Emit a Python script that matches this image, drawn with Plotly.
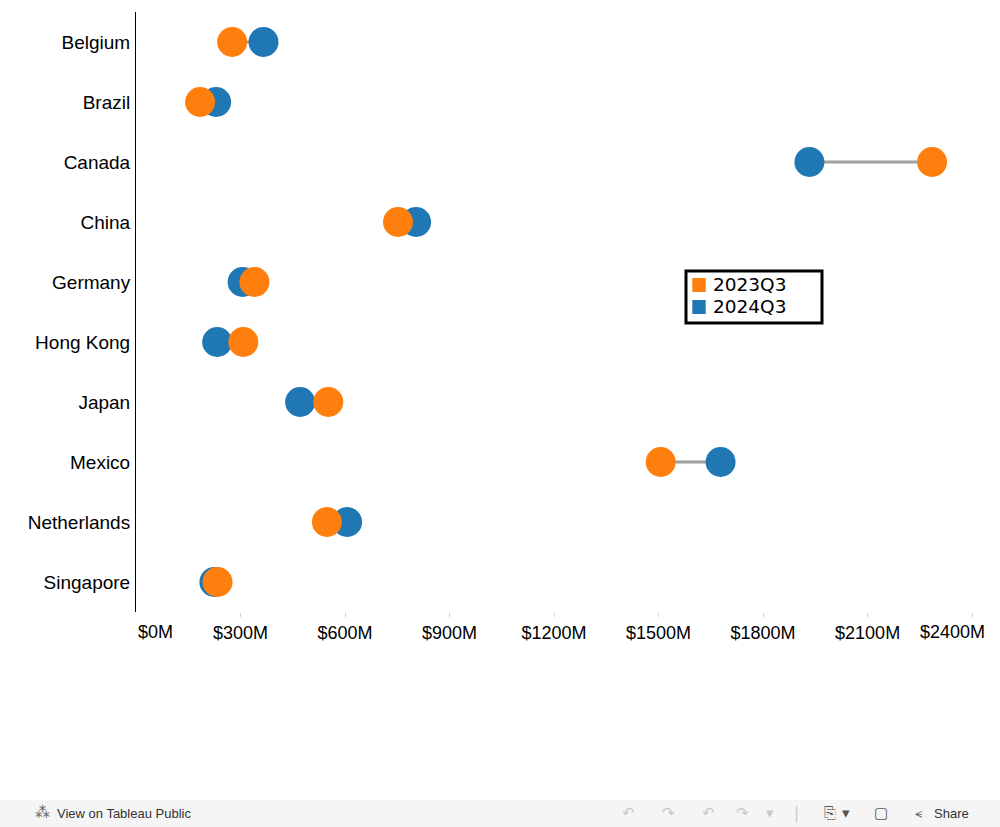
import plotly.graph_objects as go

countries = ["Belgium", "Brazil", "Canada", "China", "Germany", "Hong Kong",
             "Japan", "Mexico", "Netherlands", "Singapore"]
q2023 = [276, 184, 2285, 752, 340, 308, 552, 1506, 548, 234]   # $M
q2024 = [366, 230, 1933, 804, 306, 233, 471, 1678, 606, 225]   # $M
tick_vals = [300, 600, 900, 1200, 1500, 1800, 2100]
tick_text = ["$300M", "$600M", "$900M", "$1200M", "$1500M", "$1800M", "$2100M"]
series_names = ["2023Q3", "2024Q3"]

ORANGE = "#ff7f0e"
BLUE = "#1f77b4"
FONT = "Liberation Sans, Arial, sans-serif"

# plot area in pixels (for decorations in paper coordinates)
L, R, T, B = 136, 1000, 12, 612
def px(x):
    return (x - L) / (R - L)
def py(y):
    return (B - y) / (B - T)

fig = go.Figure()

# connector lines
lx, ly = [], []
for c, a, b in zip(countries, q2023, q2024):
    lx += [a, b, None]
    ly += [c, c, None]
fig.add_trace(go.Scatter(x=lx, y=ly, mode="lines", line=dict(color="#a0a0a0", width=3),
                         showlegend=False, hoverinfo="skip"))

fig.add_trace(go.Scatter(x=q2024, y=countries, mode="markers", name=series_names[1],
                         marker=dict(color=BLUE, size=30, line=dict(width=0)), showlegend=False))
fig.add_trace(go.Scatter(x=q2023, y=countries, mode="markers", name=series_names[0],
                         marker=dict(color=ORANGE, size=30, line=dict(width=0)), showlegend=False))

annotations = [
    dict(x=0, y=0, xref="x", yref="paper", text="$0M", showarrow=False,
         xanchor="left", yanchor="top", yshift=-8, xshift=0,
         font=dict(size=18, family=FONT, color="black")),
    dict(x=2400, y=0, xref="x", yref="paper", text="$2400M", showarrow=False,
         xanchor="center", yanchor="top", yshift=-8, xshift=-20,
         font=dict(size=18, family=FONT, color="black")),
]

# manual legend
shapes = [
    dict(type="rect", xref="paper", yref="paper", x0=px(686), x1=px(822), y0=py(323), y1=py(271),
         line=dict(color="black", width=3), fillcolor="white"),
    dict(type="rect", xref="paper", yref="paper", x0=px(692.3), x1=px(705.7), y0=py(292), y1=py(278),
         line=dict(width=0), fillcolor=ORANGE),
    dict(type="rect", xref="paper", yref="paper", x0=px(692.3), x1=px(705.7), y0=py(314), y1=py(300),
         line=dict(width=0), fillcolor=BLUE),
    # footer bar
    dict(type="rect", xref="paper", yref="paper", x0=px(-5), x1=px(1005), y0=py(800), y1=py(830),
         fillcolor="#f5f5f5", line=dict(width=0), layer="below"),
]
for name, yc in zip(series_names, [284.5, 306.5]):
    annotations.append(dict(x=px(711), y=py(yc), xref="paper", yref="paper", text=name,
                            showarrow=False, xanchor="left", yanchor="middle",
                            font=dict(size=18.5, family="DejaVu Sans", color="black")))

# footer texts / icons
fy = py(813)
annotations += [
    dict(x=px(42), y=fy, xref="paper", yref="paper", text="⁂", showarrow=False,
         xanchor="center", yanchor="middle", font=dict(size=15, family="DejaVu Sans", color="#666666")),
    dict(x=px(55), y=fy, xref="paper", yref="paper", text="View on Tableau Public", showarrow=False,
         xanchor="left", yanchor="middle", font=dict(size=13, family=FONT, color="#333333")),
    dict(x=px(932), y=fy, xref="paper", yref="paper", text="Share", showarrow=False,
         xanchor="left", yanchor="middle", font=dict(size=13, family=FONT, color="#333333")),
    dict(x=px(918), y=fy, xref="paper", yref="paper", text="⪪", showarrow=False,
         xanchor="center", yanchor="middle", font=dict(size=13, family="DejaVu Sans", color="#666666")),
]
for sym, xp, col in [("↶", 628, "#c8c8c8"), ("↷", 668, "#c8c8c8"), ("↶", 708, "#c8c8c8"),
                     ("↷", 742, "#c8c8c8"), ("▾", 770, "#c8c8c8"), ("|", 796, "#c8c8c8"),
                     ("⎘", 830, "#555555"), ("▾", 846, "#555555"), ("▢", 881, "#555555")]:
    annotations.append(dict(x=px(xp), y=fy, xref="paper", yref="paper", text=sym, showarrow=False,
                            xanchor="center", yanchor="middle",
                            font=dict(size=15, family="DejaVu Sans", color=col)))

fig.update_layout(
    width=1000, height=827,
    margin=dict(l=L, r=1000 - R, t=T, b=827 - B),
    plot_bgcolor="white", paper_bgcolor="white",
    font=dict(family=FONT, color="black"),
    showlegend=False,
    xaxis=dict(range=[0, 2480], tickvals=tick_vals + [2400], ticktext=tick_text + [""],
               showgrid=False, zeroline=False, showline=False,
               ticks="outside", ticklen=4, tickcolor="#d0d0d0", tickwidth=1,
               tickfont=dict(size=18, family=FONT, color="black"), fixedrange=True),
    yaxis=dict(categoryorder="array", categoryarray=countries,
               range=[9.5, -0.5], autorange=False,
               showgrid=False, zeroline=False, showline=True, linecolor="black", linewidth=1,
               ticks="", tickfont=dict(size=19, family=FONT, color="black"),
               ticklabelstandoff=1, fixedrange=True),
    annotations=annotations,
    shapes=shapes,
)

fig.write_html("out.html", config={"displayModeBar": False},
               post_script="document.body.style.margin='0px';document.body.style.overflow='hidden';")
